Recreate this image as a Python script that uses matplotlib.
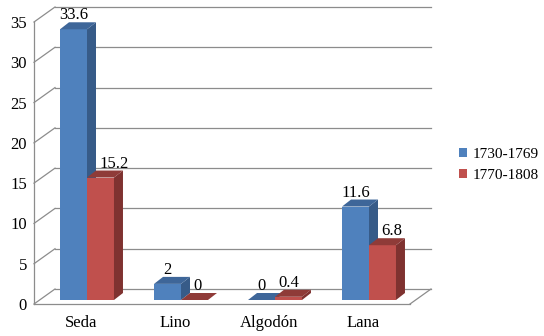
import matplotlib.pyplot as plt
import matplotlib.transforms as mtransforms
from matplotlib.patches import Polygon, Patch

# Data
categories = ['Seda', 'Lino', 'Algodón', 'Lana']
series_names = ['1730-1769', '1770-1808']
values_1730 = [33.6, 2, 0, 11.6]
values_1770 = [15.2, 0, 0.4, 6.8]
yticks = [0, 5, 10, 15, 20, 25, 30, 35]

plt.rcParams['font.family'] = ['Liberation Serif', 'DejaVu Serif']
plt.rcParams['font.size'] = 12

front_c = ['#4F81BD', '#C0504D']
side_c = ['#375B88', '#7F3230']
top_c = ['#3E6699', '#8F3B38']
grid_c = '#8C8C8C'

fig = plt.figure(figsize=(5.44, 3.36), dpi=100)
ax = fig.add_axes([34 / 544, 32 / 336, 376 / 544, 282 / 336])
ax.set_xlim(-0.5, 3.5)
ax.set_ylim(0, 35)

# depth offsets in pixels
wall_dx, wall_dy = 21, 15
bar_dx, bar_dy = 6, 4
bdx, bdy = 9, 7
w = 0.287
ident = mtransforms.IdentityTransform()


def pt(x, y, dx=0, dy=0):
    px, py = ax.transData.transform((x, y))
    return (px + dx, py + dy)


# back wall grid and left wall diagonals
for t in yticks:
    a = pt(-0.5, t, wall_dx, wall_dy)
    b = pt(3.5, t, wall_dx, wall_dy)
    c = pt(-0.5, t)
    ax.add_line(plt.Line2D([a[0], b[0]], [a[1], b[1]], color=grid_c, lw=0.9,
                           transform=ident, clip_on=False))
    ax.add_line(plt.Line2D([c[0], a[0]], [c[1], a[1]], color=grid_c, lw=0.9,
                           transform=ident, clip_on=False))
fr = pt(3.5, 0)
br = pt(3.5, 0, wall_dx, wall_dy)
ax.add_line(plt.Line2D([fr[0], br[0]], [fr[1], br[1]], color=grid_c, lw=0.9,
                       transform=ident, clip_on=False))

# bars
bar_tr = ax.transData + mtransforms.ScaledTranslation(bar_dx / 100, bar_dy / 100, fig.dpi_scale_trans)
for i in range(len(categories)):
    vals = [values_1730[i], values_1770[i]]
    for s, v in enumerate(vals):
        x0 = i - w if s == 0 else i
        ax.bar(x0, v, width=w, align='edge', color=front_c[s], transform=bar_tr,
               clip_on=False, zorder=3)
        ox, oy = bar_dx, bar_dy
        side = [pt(x0 + w, 0, ox, oy), pt(x0 + w, v, ox, oy),
                pt(x0 + w, v, ox + bdx, oy + bdy), pt(x0 + w, 0, ox + bdx, oy + bdy)]
        top = [pt(x0, v, ox, oy), pt(x0 + w, v, ox, oy),
               pt(x0 + w, v, ox + bdx, oy + bdy), pt(x0, v, ox + bdx, oy + bdy)]
        ax.add_patch(Polygon(side, closed=True, facecolor=side_c[s], edgecolor='none',
                             transform=ident, clip_on=False, zorder=3))
        ax.add_patch(Polygon(top, closed=True, facecolor=top_c[s], edgecolor='none',
                             transform=ident, clip_on=False, zorder=3))
        # value label
        if s == 1 and vals[0] > v:
            lx, ly = pt(x0, v, ox + bdx + 3, oy + 10)
            ha = 'left'
        else:
            lx, ly = pt(x0 + w / 2, v, ox, oy + 10)
            ha = 'center'
        ax.text(lx, ly, f'{v:g}', transform=ident, ha=ha, va='baseline', fontsize=12,
                zorder=4)

# axes styling
for sp in ['top', 'right']:
    ax.spines[sp].set_visible(False)
ax.spines['left'].set_color(grid_c)
ax.spines['bottom'].set_color(grid_c)
ax.spines['left'].set_linewidth(0.9)
ax.spines['bottom'].set_linewidth(0.9)
ax.set_yticks(yticks)
ax.set_xticks(range(len(categories)))
ax.set_xticklabels(categories)
ax.tick_params(axis='both', length=0)
ax.tick_params(axis='y', pad=5)
ax.tick_params(axis='x', pad=8)
ax.patch.set_visible(False)

handles = [Patch(facecolor=front_c[0]), Patch(facecolor=front_c[1])]
fig.legend(handles, series_names, loc='center left', bbox_to_anchor=(459 / 544, 1 - 165 / 336),
           frameon=False, borderpad=0, borderaxespad=0, handlelength=0.52, handleheight=0.52,
           handletextpad=0.4, labelspacing=0.5, fontsize=11)

fig.savefig('out.png', dpi=100)
